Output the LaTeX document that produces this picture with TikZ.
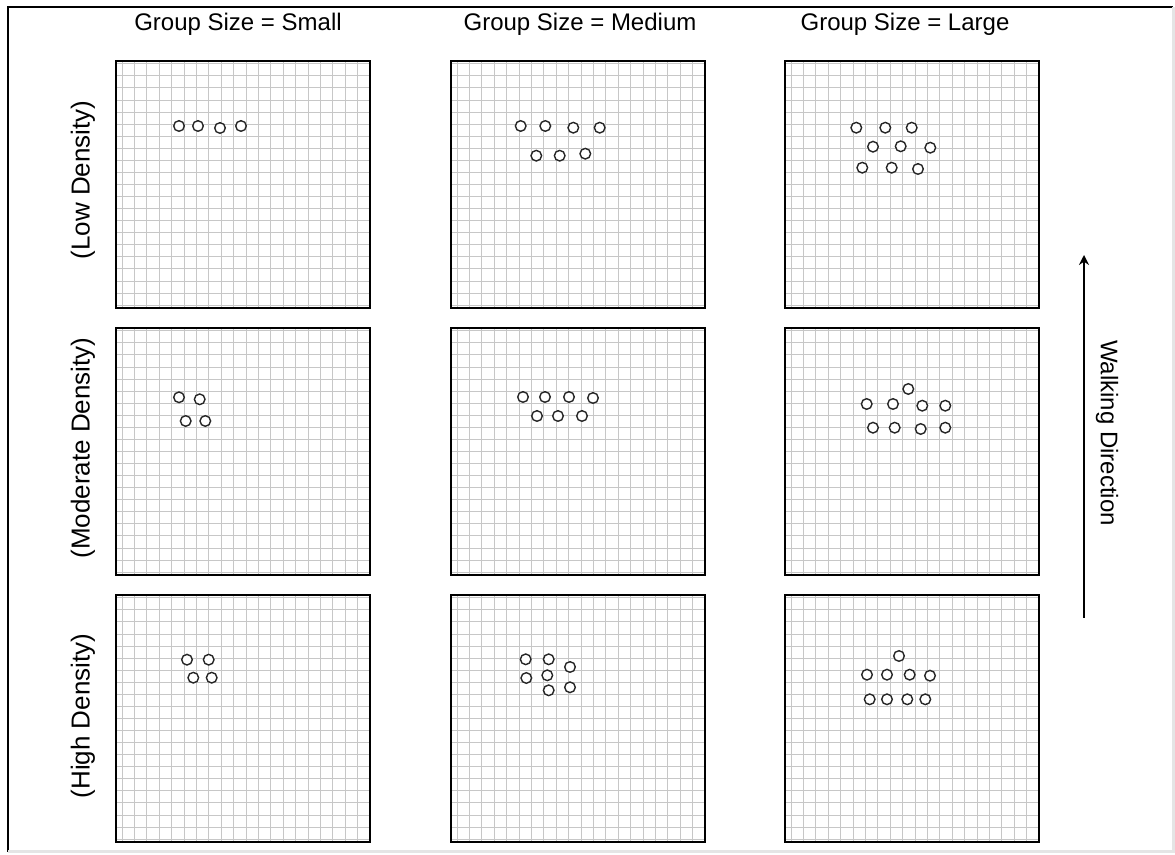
\documentclass[tikz,border=0pt]{standalone}
\usepackage{fontspec}
\setmainfont{Liberation Sans}
\usetikzlibrary{positioning, arrows.meta, calc, backgrounds}

% grid of one panel, given by its centre (x, y); lines snapped to whole pixels
\newcommand{\panelgrid}[2]{%
  \begin{scope}
    \clip ({#1-127},{#2-123.5}) rectangle ({#1+127},{#2+123.5});
    \foreach \k in {0,...,19}
      \draw[gridline] ({round(#1-127+5.7+12.4*\k)+0.5},{#2-123.5}) -- ++(0,247);
    \foreach \k in {0,...,20}
      \draw[gridline] ({#1-127},{round(#2-123.5+2.3+12.07*\k)+0.5}) -- ++(254,0);
  \end{scope}}

\begin{document}
\begin{tikzpicture}[
    x=0.5pt, y=-0.5pt,
    panel/.style={
        draw=black, line width=1.2pt, minimum width=127pt, minimum height=123.5pt,
        inner sep=0pt, outer sep=0pt
    },
    gridline/.style={black!22, line width=0.5pt},
    ped/.style={
        circle, draw=black!85, line width=0.7pt, fill=white,
        minimum size=5.3pt, inner sep=0pt
    },
    hdr/.style={font=\fontsize{12}{14}\selectfont, text=black},
    rowlbl/.style={font=\fontsize{13}{15}\selectfont, text=black, rotate=90},
    walkarrow/.style={-{Stealth[length=5pt, width=5pt]}, line width=1pt, black},
]

\useasboundingbox (0,0) rectangle (1175,855);

% outer frame
\draw[black, line width=0.6pt] (8,852) -- (8,7) -- (1173,7);
\draw[black!10, line width=1.5pt] (8,852) -- (1173,852) -- (1173,7);

% Column x-coordinates (panel centres)
\def\cS{243}
\def\cM{578}
\def\cL{912}

% Row y-coordinates (panel centres)
\def\rLo{184.5}
\def\rMo{451.5}
\def\rHi{718.5}

% ====== HEADER ROW ======
\node[hdr] (t-s) at (238, 24) {Group Size = Small};
\node[hdr] (t-m) at (580, 24) {Group Size = Medium};
\node[hdr] (t-l) at (905, 24) {Group Size = Large};

% ====== ROW LABELS ======
\node[rowlbl] (l-lo) at (83, 180) {(Low Density)};
\node[rowlbl] (l-mo) at (83, 448) {(Moderate Density)};
\node[rowlbl] (l-hi) at (83, 716) {(High Density)};

% ====== PANELS ======
\foreach \x/\y in {\cS/\rLo, \cM/\rLo, \cL/\rLo,
                   \cS/\rMo, \cM/\rMo, \cL/\rMo,
                   \cS/\rHi, \cM/\rHi, \cL/\rHi}{
  \panelgrid{\x}{\y}
}

\node[panel] (lo-s) at (\cS, \rLo) {};
\node[panel] (lo-m) at (\cM, \rLo) {};
\node[panel] (lo-l) at (\cL, \rLo) {};
\node[panel] (mo-s) at (\cS, \rMo) {};
\node[panel] (mo-m) at (\cM, \rMo) {};
\node[panel] (mo-l) at (\cL, \rMo) {};
\node[panel] (hi-s) at (\cS, \rHi) {};
\node[panel] (hi-m) at (\cM, \rHi) {};
\node[panel] (hi-l) at (\cL, \rHi) {};

% ====== ROW 1: Low Density ======
\foreach \x/\y [count=\i] in {179/126, 198/126, 220/128, 241/126}
  \node[ped] (lo-s-\i) at (\x,\y) {};
\foreach \x/\y [count=\i] in {520.7/126, 545.3/126, 573.3/127.7, 599.7/127.7,
    536.3/155.7, 559.7/155.7, 585.3/153.7}
  \node[ped] (lo-m-\i) at (\x,\y) {};
\foreach \x/\y [count=\i] in {856.3/127.7, 885.3/127.7, 911.7/127.7,
    873/146.7, 900.7/146.3, 930.3/147.7, 862.3/167.7, 891.7/167.7, 918/169}
  \node[ped] (lo-l-\i) at (\x,\y) {};

% ====== ROW 2: Moderate Density ======
\foreach \x/\y [count=\i] in {179/397.3, 199.7/399.3, 185.7/421, 205.3/421}
  \node[ped] (mo-s-\i) at (\x,\y) {};
\foreach \x/\y [count=\i] in {523/397, 545/397, 569/397, 593/398,
    537/416, 558/416, 582/416}
  \node[ped] (mo-m-\i) at (\x,\y) {};
\foreach \x/\y [count=\i] in {908.3/389, 866.7/404, 893/404, 922.3/405.7, 945.3/405.7,
    873/427.7, 894.7/427.7, 920.7/429, 945.3/427.7}
  \node[ped] (mo-l-\i) at (\x,\y) {};

% ====== ROW 3: High Density ======
\foreach \x/\y [count=\i] in {187/659.7, 208.7/659.7, 193.3/677.7, 211.7/677.7}
  \node[ped] (hi-s-\i) at (\x,\y) {};
\foreach \x/\y [count=\i] in {525.7/659.3, 548.7/659.3, 570/667,
    526.3/678, 547.3/675.3, 548.7/690.3, 570/687.3}
  \node[ped] (hi-m-\i) at (\x,\y) {};
\foreach \x/\y [count=\i] in {899/656, 867/674.7, 887/674.7, 909.7/674.7, 930/675.7,
    869.7/699.3, 887/699.3, 907.3/699.3, 925.3/699.3}
  \node[ped] (hi-l-\i) at (\x,\y) {};

% ====== WALKING DIRECTION ======
\coordinate (wd-start) at (1084, 618);
\coordinate (wd-end) at (1084, 255);
\draw[walkarrow] (wd-start) -- (wd-end);
\node[hdr, rotate=-90] (wd-lbl) at (1107, 433) {Walking Direction};

\end{tikzpicture}
\end{document}
